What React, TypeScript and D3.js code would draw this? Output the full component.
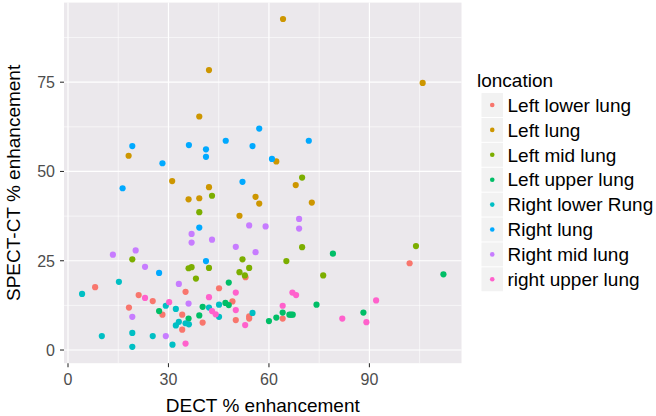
import React from 'react';
import * as d3 from 'd3';

const categories = [
  'Left lower lung',
  'Left lung',
  'Left mid lung',
  'Left upper lung',
  'Right lower Rung',
  'Right lung',
  'Right mid lung',
  'right upper lung',
];

const palette = ['#F8766D', '#CD9600', '#7CAE00', '#00BE67', '#00BFC4', '#00A9FF', '#C77CFF', '#FF61CC'];

const leftLowerLung: [number, number][] = [
  [8.1, 17.6], [45.1, 17.3], [35.1, 16.3], [21.1, 15.4], [25.3, 13.7], [49.1, 13.6],
  [18.2, 11.9], [28.2, 9.9], [34.1, 9.9], [50.1, 8.4], [40.2, 7.7], [34.1, 5.7],
  [102.0, 24.3], [53.0, 20.4], [54.1, 9.4], [54.1, 8.8], [64.1, 8.8],
];
const leftLung: [number, number][] = [
  [42.1, 78.4], [39.2, 65.4], [18.1, 54.4], [31.1, 47.3], [42.1, 45.6], [64.2, 92.7],
  [105.9, 74.8], [62.2, 52.8], [68.0, 46.2], [36.0, 42.2], [39.2, 42.5], [51.2, 37.6],
  [56.0, 42.9], [57.1, 41.0], [72.8, 41.3],
];
const leftMidLung: [number, number][] = [
  [69.9, 48.3], [43.0, 43.2], [39.2, 38.6], [19.2, 25.4], [52.1, 25.4], [36.0, 22.9],
  [36.9, 23.2], [42.1, 23.0], [51.2, 21.8], [52.8, 20.9], [38.2, 20.0], [69.9, 28.8],
  [103.9, 29.1], [65.2, 24.9], [54.1, 23.0], [76.2, 20.9],
];
const leftUpperLung: [number, number][] = [
  [48.0, 18.9], [47.0, 13.2], [48.0, 12.6], [40.2, 12.1], [27.2, 10.9], [36.0, 8.8],
  [39.2, 9.7], [79.1, 27.0], [74.2, 12.7], [60.0, 8.1], [62.2, 9.1], [64.1, 10.5],
  [66.1, 9.9], [66.6, 9.9], [67.1, 9.9], [88.2, 10.5], [112.1, 21.2],
];
const rightLowerRung: [number, number][] = [
  [15.2, 19.1], [4.2, 15.7], [45.1, 12.7], [29.2, 12.4], [42.1, 11.9], [32.2, 11.5],
  [45.1, 9.3], [33.1, 7.9], [35.1, 7.5], [36.1, 7.2], [32.2, 6.9], [10.1, 3.9],
  [19.2, 4.8], [25.3, 3.9], [19.2, 0.9], [31.2, 1.5], [55.1, 10.4],
];
const rightLung: [number, number][] = [
  [19.2, 57.1], [36.1, 57.4], [41.2, 56.2], [41.2, 54.1], [47.1, 58.6], [28.2, 52.3],
  [16.3, 45.3], [52.1, 47.1], [57.1, 62.0], [55.1, 57.1], [71.9, 58.6], [60.9, 53.5],
  [39.2, 34.3], [41.2, 24.9], [27.2, 21.6],
];
const rightMidLung: [number, number][] = [
  [36.9, 32.5], [36.9, 30.1], [43.0, 30.9], [50.1, 28.9], [20.2, 27.9], [13.4, 26.7],
  [23.0, 23.3], [33.1, 18.5], [36.0, 13.0], [19.2, 9.3], [29.2, 3.9], [54.1, 34.9],
  [59.0, 34.6], [69.0, 36.7], [69.0, 34.0], [56.0, 27.4],
];
const rightUpperLung: [number, number][] = [
  [23.0, 14.6], [30.2, 13.4], [42.1, 14.8], [50.1, 16.1], [43.0, 10.9], [44.1, 10.0],
  [50.1, 11.2], [52.9, 7.0], [35.1, 1.8], [67.0, 16.1], [68.1, 15.4], [92.0, 13.9],
  [64.1, 12.4], [81.9, 8.8], [89.1, 7.8],
];

const seriesValues = [
  leftLowerLung, leftLung, leftMidLung, leftUpperLung,
  rightLowerRung, rightLung, rightMidLung, rightUpperLung,
];

const xTicks = [0, 30, 60, 90];
const yTicks = [0, 25, 50, 75];
const xTitle = 'DECT % enhancement';
const yTitle = 'SPECT-CT % enhancement';
const legendTitle = 'loncation';

const FONT = '"Liberation Sans", Arial, Helvetica, sans-serif';

export default function App() {
  const W = 656;
  const H = 416;
  const panel = { left: 64, right: 461.5, top: 2.6, bottom: 363.2 };

  const all = seriesValues.flat();
  const xExt = d3.extent(all, (d) => d[0]) as [number, number];
  const yExt = d3.extent(all, (d) => d[1]) as [number, number];
  const xPad = (xExt[1] - xExt[0]) * 0.05;
  const yPad = (yExt[1] - yExt[0]) * 0.05;

  const x = d3.scaleLinear().domain([xExt[0] - xPad, xExt[1] + xPad]).range([panel.left, panel.right]);
  const y = d3.scaleLinear().domain([yExt[0] - yPad, yExt[1] + yPad]).range([panel.bottom, panel.top]);

  const xStep = xTicks[1] - xTicks[0];
  const yStep = yTicks[1] - yTicks[0];
  const xMinor = [...xTicks, xTicks[xTicks.length - 1] + xStep]
    .map((t) => t - xStep / 2)
    .concat([xTicks[xTicks.length - 1] + xStep / 2])
    .filter((v, i, a) => a.indexOf(v) === i)
    .filter((v) => v > x.domain()[0] && v < x.domain()[1]);
  const yMinor = [...yTicks, yTicks[yTicks.length - 1] + yStep]
    .map((t) => t - yStep / 2)
    .filter((v) => v > y.domain()[0] && v < y.domain()[1]);

  const legendX = 481.5;
  const keyW = 21.5;
  const keyH = 24.9;
  const key0 = 105;

  return (
    <svg
      width={W}
      height={H}
      style={{ position: 'absolute', left: 0, top: 0, background: '#ffffff' }}
      fontFamily={FONT}
    >
      <rect x={0} y={0} width={W} height={H} fill="#ffffff" />
      <rect
        x={panel.left}
        y={panel.top}
        width={panel.right - panel.left}
        height={panel.bottom - panel.top}
        fill="#EBE8EC"
      />
      {xMinor.map((v) => (
        <line key={'xm' + v} x1={x(v)} x2={x(v)} y1={panel.top} y2={panel.bottom} stroke="#fff" strokeWidth={0.6} />
      ))}
      {yMinor.map((v) => (
        <line key={'ym' + v} x1={panel.left} x2={panel.right} y1={y(v)} y2={y(v)} stroke="#fff" strokeWidth={0.6} />
      ))}
      {xTicks.map((v) => (
        <line key={'xg' + v} x1={x(v)} x2={x(v)} y1={panel.top} y2={panel.bottom} stroke="#fff" strokeWidth={1.2} />
      ))}
      {yTicks.map((v) => (
        <line key={'yg' + v} x1={panel.left} x2={panel.right} y1={y(v)} y2={y(v)} stroke="#fff" strokeWidth={1.2} />
      ))}

      {seriesValues.map((pts, si) =>
        pts.map((p, i) => (
          <circle key={si + '-' + i} cx={x(p[0])} cy={y(p[1])} r={3.1} fill={palette[si]} />
        ))
      )}

      {xTicks.map((v) => (
        <g key={'xt' + v}>
          <line x1={x(v)} x2={x(v)} y1={panel.bottom} y2={panel.bottom + 4} stroke="#333" strokeWidth={1.1} />
          <text x={x(v)} y={385} textAnchor="middle" fontSize={16} fill="#4D4D4D">
            {v}
          </text>
        </g>
      ))}
      {yTicks.map((v) => (
        <g key={'yt' + v}>
          <line x1={panel.left - 4} x2={panel.left} y1={y(v)} y2={y(v)} stroke="#333" strokeWidth={1.1} />
          <text x={55} y={y(v) + 5.8} textAnchor="end" fontSize={16} fill="#4D4D4D">
            {v}
          </text>
        </g>
      ))}

      <text x={(panel.left + panel.right) / 2} y={412} textAnchor="middle" fontSize={19} fill="#000">
        {xTitle}
      </text>
      <text
        transform={`translate(20,${(panel.top + panel.bottom) / 2}) rotate(-90)`}
        textAnchor="middle"
        fontSize={19}
        fill="#000"
      >
        {yTitle}
      </text>

      <text x={477} y={87} fontSize={19} fill="#000">
        {legendTitle}
      </text>
      {categories.map((c, i) => {
        const cy = key0 + i * keyH;
        return (
          <g key={'lg' + c}>
            <rect x={legendX} y={cy - keyH / 2 + 0.5} width={keyW} height={keyH - 1} fill="#F2F2F2" />
            <circle cx={legendX + keyW / 2} cy={cy} r={2.3} fill={palette[i]} />
            <text x={507.5} y={cy + 6.7} fontSize={19} fill="#000">
              {c}
            </text>
          </g>
        );
      })}
    </svg>
  );
}
